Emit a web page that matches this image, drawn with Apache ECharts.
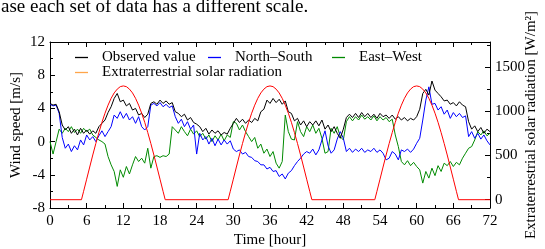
<!DOCTYPE html>
<html><head><meta charset="utf-8">
<script src="https://cdn.jsdelivr.net/npm/echarts@6/dist/echarts.min.js"></script>
<style>html,body{margin:0;padding:0;background:#fff}#c{width:545px;height:249px}</style>
</head><body><div id="c"></div>
<script>
// Sampling step of the wind series (hours)
const timeStepHours = 0.5;

// Observed wind speed [m/s], every 0.5 h from 0 to 72 h
const observed = [
  4.6, 4.4, 4.5, 3.6, 2.0, 1.4, 1.8, 1.0, 1.5, 0.8,
  1.6, 1.0, 1.4, 0.9, 1.3, 1.0, 1.8, 2.2, 2.6, 3.5,
  4.2, 5.2, 5.8, 4.8, 5.0, 4.3, 4.6, 3.8, 4.0, 3.2,
  3.4, 2.9, 3.3, 4.6, 4.8, 4.5, 5.0, 4.6, 4.9, 4.5,
  4.7, 3.6, 3.4, 3.0, 3.3, 2.6, 2.9, 2.3, 2.1, 1.8,
  1.2, 1.6, 0.9, 1.4, 1.0, 1.3, 0.8, 1.1, 0.9, 1.6,
  2.2, 2.8, 2.3, 2.7, 2.2, 2.6, 2.3, 2.8, 2.5, 3.6,
  3.9, 5.0, 4.6, 5.2, 4.7, 5.1, 4.5, 4.9, 3.6, 3.4,
  2.5, 2.8, 2.0, 2.5, 1.8, 2.4, 2.0, 2.5, 1.9, 2.6,
  1.5, 2.0, 1.2, 1.8, 1.0, 0.4, 1.5, 2.9, 3.3, 2.9,
  3.4, 2.9, 3.5, 3.0, 3.4, 2.9, 3.3, 2.8, 3.4, 3.0,
  3.2, 2.8, 3.2, 2.7, 3.0, 2.6, 2.9, 2.5, 2.8, 2.6,
  3.0, 3.9, 5.8, 6.3, 5.6, 7.3, 6.2, 5.8, 5.4, 4.9,
  5.0, 4.5, 4.7, 4.3, 4.8, 4.4, 4.2, 2.4, 1.5, 1.9,
  1.2, 1.7, 1.0, 1.5, 1.2
];

// North–South component [m/s]
const northSouth = [
  4.5, 4.3, 4.4, 3.4, 0.5, -0.8, -0.3, -1.2, -0.5, -1.0,
  0.2, -0.4, 0.8, 0.2, 0.6, 0.0, 0.7, 1.3, 0.6, 1.2,
  1.8, 3.2, 2.8, 3.6, 2.8, 3.4, 2.6, 3.0, 2.2, 3.0,
  1.8, 1.4, 1.8, 4.4, 4.6, 4.3, 4.7, 4.2, 4.5, 4.1,
  4.3, 3.0, 2.2, 2.7, 1.8, 2.4, 1.5, 2.0, -1.5, 1.0,
  0.2, 0.6, -0.3, 0.4, -0.5, 0.3, -0.4, 0.2, -0.3, 0.1,
  -0.9, -1.2, -1.0, -1.5, -1.3, -1.8, -1.9, -2.3, -2.4, -2.8,
  -2.8, -3.3, -3.1, -3.6, -3.5, -4.2, -3.9, -4.5, -3.8, -3.5,
  -2.9, -2.4, -2.0, -1.5, -1.2, -1.4, -0.9, -1.6, -1.0, 0.2,
  1.3, -0.5, -1.4, -1.0, 0.3, 1.2, 0.4, -1.2, -0.8, -1.3,
  -0.9, -1.2, -0.8, -1.3, -1.0, -1.2, -0.8, -1.3, -1.0, -1.4,
  -2.2, -2.0, -1.2, -1.5, -2.2, -1.0, -1.2, -0.9, -1.3, -0.9,
  -0.2, 0.4, 2.6, 5.0, 6.6, 4.5, 4.6, 3.8, 4.2, 3.3,
  3.8, 2.8, 3.5, 3.0, 3.4, 2.9, 3.1, 0.6, 1.2, 0.4,
  1.0, 0.3, 0.8, 0.1, -0.4
];

// East–West component [m/s]
const eastWest = [
  0.0, -1.5, 0.0, 1.5, 1.0, 1.6, 1.2, 1.8, 1.1, 1.5,
  1.0, 1.6, 1.2, 1.5, 0.8, 0.5, 0.2, 0.0, -0.3, -1.8,
  -2.8, -3.6, -5.4, -3.4, -4.3, -3.0, -3.9, -2.8, -1.8, -2.4,
  -2.0, -2.6, -0.8, -3.2, -1.8, -1.7, -1.9, -1.7, -1.8, -1.5,
  1.8, 1.4, 1.0, 1.8, 1.2, 0.7, 1.5, 0.9, 1.3, 0.6,
  1.0, 0.3, 0.8, 0.0, 0.7, 0.2, 0.9, 0.1, 0.8, 0.5,
  2.4, 2.2, 1.4, 2.0, 1.2, 0.6, 0.0, 0.5, -0.8, -0.3,
  -1.4, -0.9, -1.8, -1.2, -2.6, -3.2, -2.4, 3.2, 1.2, 0.3,
  0.2, 2.4, 1.2, 0.6, 1.8, 1.2, 2.0, 1.0, 1.6, 0.4,
  -1.4, -1.2, 1.6, 1.0, 1.8, 0.6, 0.2, 2.4, 3.0, 2.5,
  3.0, 2.6, 3.2, 2.7, 3.0, 2.6, 3.1, 2.5, 3.0, 2.6,
  2.9, 2.4, 2.7, 0.8, -0.6, -2.4, -2.8, -2.3, -2.9, -2.5,
  -3.0, -3.4, -5.0, -3.6, -4.4, -3.2, -4.1, -2.9, -3.6, -2.6,
  -2.9, -2.4, -3.0, -2.5, -2.8, -2.0, -1.4, -0.8, -0.6, 0.2,
  1.2, 0.8, 1.3, 0.7, 1.0
];

// Extraterrestrial solar radiation [W/m^2]
const solarHours = [
  0,
  5.15, 5.5, 6, 6.5, 7, 7.5, 8, 8.5, 9, 9.5, 10, 10.5, 11, 11.5, 12,
  12.5, 13, 13.5, 14, 14.5, 15, 15.5, 16, 16.5, 17, 17.5, 18, 18.5, 18.85,
  29.15, 29.5, 30, 30.5, 31, 31.5, 32, 32.5, 33, 33.5, 34, 34.5, 35, 35.5, 36,
  36.5, 37, 37.5, 38, 38.5, 39, 39.5, 40, 40.5, 41, 41.5, 42, 42.5, 42.85,
  53.15, 53.5, 54, 54.5, 55, 55.5, 56, 56.5, 57, 57.5, 58, 58.5, 59, 59.5, 60,
  60.5, 61, 61.5, 62, 62.5, 63, 63.5, 64, 64.5, 65, 65.5, 66, 66.5, 66.85,
  72
];
const solarValues = [
  0,
  0, 95, 232, 369, 505, 635, 758, 874, 977, 1068, 1145, 1206, 1249, 1277, 1285,
  1277, 1249, 1206, 1145, 1068, 977, 874, 758, 635, 505, 369, 232, 95, 0,
  0, 95, 232, 369, 505, 635, 758, 874, 977, 1068, 1145, 1206, 1249, 1277, 1285,
  1277, 1249, 1206, 1145, 1068, 977, 874, 758, 635, 505, 369, 232, 95, 0,
  0, 95, 232, 369, 505, 635, 758, 874, 977, 1068, 1145, 1206, 1249, 1277, 1285,
  1277, 1249, 1206, 1145, 1068, 977, 874, 758, 635, 505, 369, 232, 95, 0,
  0
];

const rightMajorTicks = [0, 500, 1000, 1500];
const rightMinorTicks = [250, 750, 1250, 1750];

function toPairs(arr) { return arr.map((v, i) => [i * timeStepHours, v]); }
const solarPairs = solarHours.map((h, i) => [h, solarValues[i]]);

const F = 'Liberation Serif';
const black = '#000';
const tickStyle = { color: black, width: 1 };

const chart = echarts.init(document.getElementById('c'), null, { renderer: 'canvas' });

function legendBox(name, left, top, color) {
  const item = { name: name };
  if (color) item.itemStyle = { color: color };
  return {
    data: [item], left: left, top: top, padding: 0, icon: 'rect',
    itemWidth: 13, itemHeight: 1.3, selectedMode: false,
    textStyle: { fontFamily: F, fontSize: 15, color: black, padding: [0, 0, 0, 9] }
  };
}

chart.setOption({
  animation: false,
  grid: { left: 50, right: 55, top: 42, bottom: 41, outerBoundsMode: 'none', containLabel: false },
  graphic: [{
    type: 'text', left: 1, top: -2, silent: true,
    style: { text: 'ase each set of data has a different scale.', font: '19px "Liberation Serif"', fill: black }
  }],
  legend: [
    legendBox('Observed value', 75, 50),
    legendBox('North–South', 208, 50),
    legendBox('East–West', 332, 50),
    legendBox('Extraterrestrial solar radiation', 75, 65, '#ffa54a')
  ],
  xAxis: [{
    type: 'value', min: 0, max: 72, interval: 6, position: 'bottom',
    axisLine: { onZero: false, lineStyle: tickStyle },
    axisTick: { inside: true, length: 5, lineStyle: tickStyle },
    minorTick: { show: true, splitNumber: 2, length: 3, lineStyle: tickStyle },
    splitLine: { show: false }, minorSplitLine: { show: false },
    axisLabel: { color: black, fontFamily: F, fontSize: 15, margin: 6 },
    name: 'Time [hour]', nameLocation: 'middle', nameGap: 25, nameMoveOverlap: false,
    nameTextStyle: { color: black, fontFamily: F, fontSize: 15 }
  }, {
    type: 'value', min: 0, max: 72, interval: 6, position: 'top',
    axisLine: { onZero: false, lineStyle: tickStyle },
    axisTick: { inside: true, length: 5, lineStyle: tickStyle },
    minorTick: { show: true, splitNumber: 2, length: 3, lineStyle: tickStyle },
    splitLine: { show: false }, axisLabel: { show: false }
  }],
  yAxis: [{
    type: 'value', min: -8, max: 12, interval: 4, position: 'left',
    axisLine: { show: true, onZero: false, lineStyle: tickStyle },
    axisTick: { show: true, inside: true, length: 5, lineStyle: tickStyle },
    minorTick: { show: true, splitNumber: 2, length: 3, lineStyle: tickStyle },
    splitLine: { show: false }, minorSplitLine: { show: false },
    axisLabel: { color: black, fontFamily: F, fontSize: 15, margin: 5 },
    name: 'Wind speed [m/s]', nameLocation: 'middle', nameGap: 26, nameMoveOverlap: false,
    nameTextStyle: { color: black, fontFamily: F, fontSize: 15 }
  }, {
    type: 'value', min: -93.75, max: 1781.25, position: 'right',
    axisLine: { show: true, onZero: false, lineStyle: tickStyle },
    axisTick: { show: true, inside: true, length: 5, lineStyle: tickStyle, customValues: rightMajorTicks },
    splitLine: { show: false },
    axisLabel: { color: black, fontFamily: F, fontSize: 15, margin: 5, customValues: rightMajorTicks,
      formatter: v => String(Math.round(v)) },
    name: 'Extraterrestrial solar radiation [W/m²]', nameLocation: 'middle', nameGap: 34, nameRotate: 90,
    nameMoveOverlap: false,
    nameTextStyle: { color: black, fontFamily: F, fontSize: 15 }
  }, {
    type: 'value', min: -93.75, max: 1781.25, position: 'right',
    axisLine: { show: false, onZero: false },
    axisTick: { show: true, inside: true, length: 3, lineStyle: tickStyle, customValues: rightMinorTicks },
    splitLine: { show: false },
    axisLabel: { show: false }
  }],
  series: [{
    name: 'East–West', type: 'line', data: toPairs(eastWest), symbol: 'none',
    lineStyle: { width: 1, color: '#008a00' }, itemStyle: { color: '#008a00' }, z: 2
  }, {
    name: 'North–South', type: 'line', data: toPairs(northSouth), symbol: 'none',
    lineStyle: { width: 1, color: '#0000ff' }, itemStyle: { color: '#0000ff' }, z: 3
  }, {
    name: 'Observed value', type: 'line', data: toPairs(observed), symbol: 'none',
    lineStyle: { width: 1, color: '#000000' }, itemStyle: { color: '#000000' }, z: 4
  }, {
    name: 'Extraterrestrial solar radiation', type: 'line', yAxisIndex: 1, data: solarPairs, symbol: 'none',
    lineStyle: { width: 1, color: '#ff0000' }, itemStyle: { color: '#ff0000' }, z: 5
  }]
});
</script>
</body></html>
